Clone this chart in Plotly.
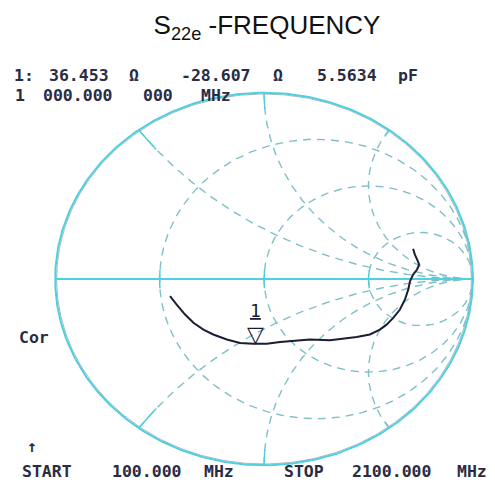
import numpy as np
import plotly.graph_objects as go

# ---------------- data ----------------
freq_start_mhz = 100.0
freq_stop_mhz = 2100.0
z0_ohm = 50.0

# S22e trace in the reflection-coefficient plane (start -> stop)
gamma_re = [0.714, 0.722, 0.733, 0.743, 0.733, 0.714, 0.699, 0.691, 0.675,
            0.651, 0.619, 0.587, 0.555, 0.507, 0.444, 0.379, 0.316, 0.220,
            0.140, 0.077, 0.013, -0.051, -0.115, -0.178, -0.243, -0.290,
            -0.338, -0.378, -0.418, -0.450]
gamma_im = [0.162, 0.132, 0.105, 0.078, 0.051, 0.024, -0.012, -0.056, -0.110,
            -0.164, -0.209, -0.245, -0.272, -0.298, -0.311, -0.322, -0.329,
            -0.325, -0.331, -0.338, -0.348, -0.348, -0.343, -0.325, -0.298,
            -0.272, -0.235, -0.191, -0.137, -0.092]

# marker 1 readout
marker_id = "1"
marker_r_ohm = 36.453
marker_x_ohm = -28.607
marker_c_pf = 5.5634
marker_freq_words = ["1", "000.000", "000", "MHz"]

# Smith chart graticule values (normalised)
r_circles = [1 / 3, 1.0, 3.0]
x_arcs = [0.5, 1.0, 2.0]

# ---------------- styling ----------------
CYAN = "#4fcfdf"
GRID = "#7fc0c8"
TRACE = "#1b1d33"
TXT = "#2a2c44"
MONO = "DejaVu Sans Mono, monospace"

OFF = 8                      # the page body adds an 8 px margin
W, H = 495 - OFF, 483 - OFF
ML, MR, MT, MB = 51 - OFF, 18, 89 - OFF, 14
RANGE = 1.02


def gamma_of(z):
    return (z - 1) / (z + 1)


fig = go.Figure()

# r circles (dashed) + short solid ticks on the real axis
t = np.linspace(0, 2 * np.pi, 400)
for r in r_circles:
    c, rad = r / (r + 1), 1 / (r + 1)
    fig.add_trace(go.Scatter(x=c + rad * np.cos(t), y=rad * np.sin(t), mode="lines",
                             line=dict(color=GRID, width=1.4, dash="8px,6px"),
                             hoverinfo="skip", showlegend=False))
    tt = np.linspace(np.pi - 0.05 / rad, np.pi + 0.05 / rad, 20)
    fig.add_trace(go.Scatter(x=c + rad * np.cos(tt), y=rad * np.sin(tt), mode="lines",
                             line=dict(color=CYAN, width=1.5),
                             hoverinfo="skip", showlegend=False))

# x arcs (dashed) + short solid ticks at the rim
rr = np.tan(np.linspace(0, np.pi / 2 - 1e-3, 400))
for xv in x_arcs:
    for s in (1, -1):
        g = gamma_of(rr + 1j * s * xv)
        fig.add_trace(go.Scatter(x=g.real, y=g.imag, mode="lines",
                                 line=dict(color=GRID, width=1.4, dash="8px,6px"),
                                 hoverinfo="skip", showlegend=False))
        gt = gamma_of(np.linspace(0, 0.09, 10) + 1j * s * xv)
        fig.add_trace(go.Scatter(x=gt.real, y=gt.imag, mode="lines",
                                 line=dict(color=CYAN, width=1.5),
                                 hoverinfo="skip", showlegend=False))

# outer circle and real axis
fig.add_trace(go.Scatter(x=0.993 * np.cos(t), y=0.993 * np.sin(t), mode="lines",
                         line=dict(color="#a9b8bb", width=1),
                         hoverinfo="skip", showlegend=False))
fig.add_trace(go.Scatter(x=np.cos(t), y=np.sin(t), mode="lines",
                         line=dict(color=CYAN, width=2),
                         hoverinfo="skip", showlegend=False))
fig.add_trace(go.Scatter(x=[-1, 1], y=[0, 0], mode="lines",
                         line=dict(color=CYAN, width=2),
                         hoverinfo="skip", showlegend=False))

# measured trace
fig.add_trace(go.Scatter(x=gamma_re, y=gamma_im, mode="lines",
                         line=dict(color=TRACE, width=2),
                         hoverinfo="skip", showlegend=False))

# marker position from its impedance readout
gm = gamma_of(complex(marker_r_ohm, marker_x_ohm) / z0_ohm)


def px_to_paper(px, py):
    return (px - OFF - ML) / (W - ML - MR), (H - MB - (py - OFF)) / (H - MT - MB)


ann = []
ann.append(dict(x=gm.real, y=gm.imag, xref="x", yref="y", text="▽", showarrow=False,
                xanchor="center", yanchor="bottom", yshift=-6,
                font=dict(family="DejaVu Sans", size=22, color=TRACE)))
ann.append(dict(x=gm.real, y=gm.imag, xref="x", yref="y", text=f"<u>{marker_id}</u>",
                showarrow=False, xanchor="center", yanchor="bottom", yshift=20,
                font=dict(family=MONO, size=18, color=TRACE)))


def word(text, cx, cy, size=16.5):
    xp, yp = px_to_paper(cx, cy)
    ann.append(dict(x=xp, y=yp, xref="paper", yref="paper", text=text, showarrow=False,
                    xanchor="center", yanchor="middle", borderpad=0,
                    font=dict(family=MONO, size=size, color=TXT, weight="bold")))


# marker readout line 1
for txt, cx in [(f"{marker_id}:", 23.5), (f"{marker_r_ohm:.3f}", 79), ("Ω", 133.5),
                (f"{marker_x_ohm:.3f}", 216), ("Ω", 277.5),
                (f"{marker_c_pf:.4f}", 346.5), ("pF", 407.5)]:
    word(txt, cx, 75.5)
# marker frequency line 2
for txt, cx in zip(marker_freq_words, [20, 77.5, 157.5, 216]):
    word(txt, cx, 95.5)
word("Cor", 33.5, 337)
word("↑", 32, 446)
for txt, cx in [("START", 47), (f"{freq_start_mhz:.3f}", 146.5), ("MHz", 218.5),
                ("STOP", 303.5), (f"{freq_stop_mhz:.3f}", 391.5), ("MHz", 471.5)]:
    word(txt, cx, 471)

fig.update_layout(
    width=W, height=H,
    margin=dict(l=ML, r=MR, t=MT, b=MB),
    paper_bgcolor="white", plot_bgcolor="white",
    xaxis=dict(range=[-RANGE, RANGE], visible=False, fixedrange=True),
    yaxis=dict(range=[-RANGE, RANGE], visible=False, fixedrange=True),
    title=dict(text="S<sub>22e</sub> -FREQUENCY", x=(267 - OFF) / W, xanchor="center",
               y=1 - (25 - OFF) / H, yanchor="middle", yref="container",
               font=dict(family="Liberation Sans, Arial", size=26, color="#111111")),
    annotations=ann,
    showlegend=False,
)

fig.write_html("out.html")
